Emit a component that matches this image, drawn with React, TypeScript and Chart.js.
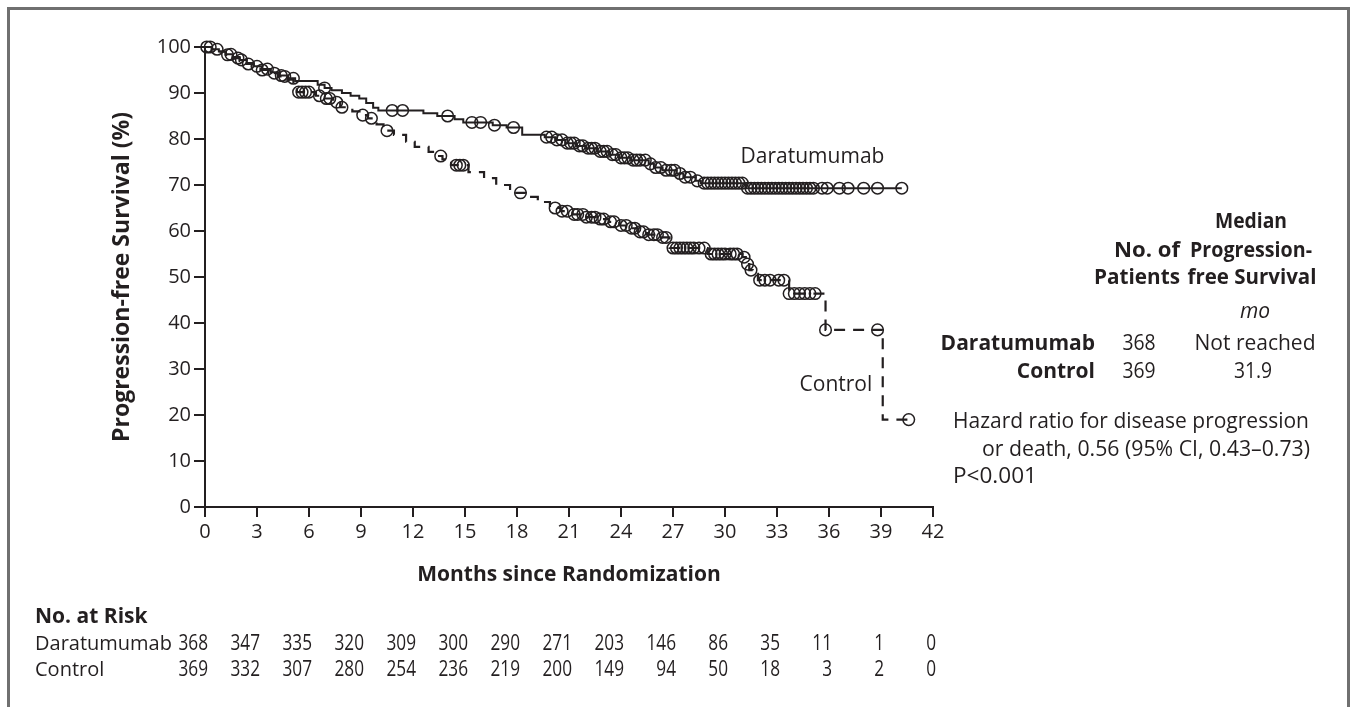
import { useEffect, useRef } from 'react';
import { Chart, registerables } from 'chart.js';

Chart.register(...registerables);

const FONT = "'Open Sans', sans-serif";
const INK = '#231f20';

// Kaplan–Meier step points (months, % progression-free)
const darTimes = [0, 0.4, 0.8, 1.2, 1.6, 2.0, 2.4, 2.8, 3.3, 3.8, 4.3, 4.8, 5.2, 6.5, 6.9, 7.3, 7.9, 8.4, 8.9, 9.3, 9.7, 10.0, 12.6, 13.4, 14.4, 14.9, 16.6, 17.4, 18.3, 19.6, 20.2, 20.8, 21.4, 22.0, 22.6, 23.3, 23.9, 24.6, 25.6, 25.9, 26.4, 27.2, 27.6, 28.3, 28.6, 31.2];
const darSurv = [100, 99.5, 99.0, 98.4, 97.8, 97.2, 96.5, 95.8, 95.2, 94.5, 93.8, 93.2, 92.6, 91.8, 91.1, 90.6, 90.0, 89.4, 88.8, 87.8, 86.8, 86.2, 85.6, 85.0, 84.3, 83.6, 83.0, 82.5, 80.9, 80.4, 79.8, 79.1, 78.5, 78.0, 77.3, 76.6, 75.9, 75.4, 74.6, 73.8, 73.2, 72.5, 71.7, 70.9, 70.4, 69.3];
const darEnd = 40.2;
const darCensor = [0.1, 0.7, 1.5, 2.1, 3.0, 3.6, 4.4, 5.1, 6.9, 10.8, 11.4, 14.0, 15.4, 15.9, 16.7, 17.8, 19.7, 20.0, 20.3, 20.6, 20.9, 21.1, 21.3, 21.6, 21.8, 22.1, 22.3, 22.5, 22.8, 23.0, 23.2, 23.5, 23.7, 24.0, 24.2, 24.4, 24.7, 24.9, 25.1, 25.4, 25.7, 26.0, 26.3, 26.6, 26.9, 27.1, 27.4, 27.7, 28.0, 28.4, 28.8, 29.0, 29.2, 29.4, 29.6, 29.8, 30.0, 30.2, 30.4, 30.6, 30.8, 31.0, 31.3, 31.5, 31.7, 31.9, 32.1, 32.3, 32.5, 32.7, 32.9, 33.1, 33.3, 33.5, 33.7, 33.9, 34.1, 34.3, 34.5, 34.7, 34.9, 35.1, 35.6, 35.9, 36.6, 37.1, 38.0, 38.8, 40.2];

const ctlTimes = [0, 0.4, 0.8, 1.2, 1.6, 2.0, 2.4, 2.8, 3.2, 3.7, 4.2, 4.7, 5.1, 5.3, 6.4, 6.9, 7.4, 7.8, 8.5, 9.0, 9.4, 9.9, 10.3, 10.9, 11.6, 12.1, 12.9, 13.3, 13.7, 14.2, 15.2, 16.1, 16.8, 17.6, 18.5, 19.2, 19.9, 20.5, 21.2, 21.9, 22.7, 23.3, 23.9, 24.5, 25.0, 25.5, 26.2, 26.8, 29.0, 31.0, 31.2, 31.4, 31.6, 31.9, 33.7, 35.8, 39.1];
const ctlSurv = [100, 99.5, 99.0, 98.3, 97.6, 97.0, 96.3, 95.6, 95.0, 94.3, 93.6, 92.9, 91.8, 90.2, 89.4, 88.8, 88.0, 86.9, 86.0, 85.2, 84.5, 83.2, 81.8, 80.9, 79.4, 78.3, 77.2, 76.3, 75.6, 74.3, 72.8, 71.5, 70.0, 68.3, 67.4, 66.3, 65.0, 64.3, 63.6, 63.0, 62.6, 62.0, 61.2, 60.6, 59.8, 59.2, 58.6, 56.3, 55.0, 54.3, 52.8, 51.5, 50.7, 49.3, 46.4, 38.5, 19.0];
const ctlEnd = 40.6;
const ctlCensor = [0.3, 1.3, 1.9, 2.5, 3.3, 4.0, 4.6, 5.4, 5.6, 5.8, 6.0, 6.6, 7.0, 7.2, 7.6, 7.9, 9.1, 9.6, 10.5, 13.6, 14.5, 14.7, 14.9, 18.2, 20.2, 20.6, 20.9, 21.3, 21.5, 21.8, 22.0, 22.3, 22.5, 22.8, 23.0, 23.4, 23.6, 24.0, 24.3, 24.6, 24.8, 25.1, 25.3, 25.6, 25.9, 26.1, 26.4, 26.6, 27.0, 27.2, 27.4, 27.6, 27.8, 28.0, 28.2, 28.5, 28.8, 29.2, 29.4, 29.6, 29.8, 30.0, 30.3, 30.5, 30.7, 31.1, 31.3, 31.5, 32.0, 32.3, 32.6, 33.1, 33.4, 33.7, 34.0, 34.3, 34.6, 34.9, 35.2, 35.8, 38.8, 40.6];

const riskTimes = [0, 3, 6, 9, 12, 15, 18, 21, 24, 27, 30, 33, 36, 39, 42];
const riskDara = [368, 347, 335, 320, 309, 300, 290, 271, 203, 146, 86, 35, 11, 1, 0];
const riskCtl = [369, 332, 307, 280, 254, 236, 219, 200, 149, 94, 50, 18, 3, 2, 0];

function survAt(times: number[], surv: number[], t: number) {
  let s = surv[0];
  for (let i = 0; i < times.length; i++) if (times[i] <= t) s = surv[i];
  return s;
}
const linePts = (times: number[], surv: number[], end: number) => [
  ...times.map((t, i) => ({ x: t, y: surv[i] })),
  { x: end, y: surv[surv.length - 1] },
];
const censorPts = (times: number[], surv: number[], cens: number[]) =>
  cens.map((t) => ({ x: t, y: survAt(times, surv, t) }));

// draw text, optionally squeezed horizontally by sx (or fitted to width w)
function txt(ctx: CanvasRenderingContext2D, s: string, x: number, y: number, align: CanvasTextAlign,
  opts: { weight?: string; style?: string; size?: number; sx?: number; w?: number } = {}) {
  const { weight = 'normal', style = 'normal', size = 21 } = opts;
  ctx.font = `${style} ${weight} ${size}px ${FONT}`;
  ctx.textAlign = align;
  let sx = opts.sx ?? 1;
  if (opts.w) sx = opts.w / ctx.measureText(s).width;
  ctx.save();
  ctx.translate(x, y);
  ctx.scale(sx, 1);
  ctx.fillText(s, 0, 0);
  ctx.restore();
}

const annotations = {
  id: 'annotations',
  afterDraw(chart: any) {
    const ctx: CanvasRenderingContext2D = chart.ctx;
    const xs = chart.scales.x;
    const ys = chart.scales.y;
    ctx.save();
    ctx.fillStyle = INK;
    ctx.textBaseline = 'middle';
    // curve labels
    txt(ctx, 'Daratumumab', xs.getPixelForValue(30.9), ys.getPixelForValue(76.1), 'left');
    txt(ctx, 'Control', xs.getPixelForValue(34.3), ys.getPixelForValue(26.5), 'left');
    // legend table
    const B = { weight: 'bold' };
    txt(ctx, 'Median', 1251, 222, 'center', { ...B, w: 72 });
    txt(ctx, 'No. of', 1180, 251, 'right', { ...B, w: 66 });
    txt(ctx, 'Progression-', 1251, 251, 'center', { ...B, w: 122 });
    txt(ctx, 'Patients', 1180, 278, 'right', { ...B, w: 86 });
    txt(ctx, 'free Survival', 1252, 278, 'center', { ...B, w: 129 });
    txt(ctx, 'mo', 1255, 312, 'center', { style: 'italic' });
    txt(ctx, 'Daratumumab', 1095, 344, 'right', B);
    txt(ctx, '368', 1139, 344, 'center', { sx: 0.92 });
    txt(ctx, 'Not reached', 1255, 344, 'center');
    txt(ctx, 'Control', 1095, 372, 'right', B);
    txt(ctx, '369', 1139, 372, 'center', { sx: 0.92 });
    txt(ctx, '31.9', 1253, 372, 'center', { sx: 0.92 });
    txt(ctx, 'Hazard ratio for disease progression', 953, 422, 'left');
    txt(ctx, 'or death, 0.56 (95% CI, 0.43\u20130.73)', 982, 450, 'left', { w: 328 });
    txt(ctx, 'P<0.001', 953, 477, 'left', { w: 84 });
    // number at risk
    txt(ctx, 'No. at Risk', 35, 617, 'left', B);
    txt(ctx, 'Daratumumab', 35, 644, 'left', { size: 20 });
    txt(ctx, 'Control', 35, 670, 'left', { size: 20 });
    riskTimes.forEach((t, i) => {
      const px = xs.getPixelForValue(t) + 3;
      txt(ctx, String(riskDara[i]), px, 644, 'right', { sx: 0.82 });
      txt(ctx, String(riskCtl[i]), px, 670, 'right', { sx: 0.82 });
    });
    ctx.restore();
  },
};

export default function App() {
  const ref = useRef<HTMLCanvasElement>(null);
  useEffect(() => {
    const tickFont = { family: FONT, size: 20 };
    const chart = new Chart(ref.current as HTMLCanvasElement, {
      type: 'scatter',
      data: {
        datasets: [
          {
            data: linePts(darTimes, darSurv, darEnd),
            showLine: true,
            stepped: 'before',
            borderColor: INK,
            borderWidth: 2,
            pointRadius: 0,
            clip: false,
          },
          {
            data: linePts(ctlTimes, ctlSurv, ctlEnd),
            showLine: true,
            stepped: 'before',
            borderColor: INK,
            borderWidth: 2.2,
            borderDash: [11, 8],
            pointRadius: 0,
            clip: false,
          },
          {
            data: censorPts(darTimes, darSurv, darCensor),
            pointRadius: 5.8,
            pointBorderWidth: 1.5,
            pointBorderColor: INK,
            pointBackgroundColor: 'rgba(0,0,0,0)',
            clip: false,
          },
          {
            data: censorPts(ctlTimes, ctlSurv, ctlCensor),
            pointRadius: 5.8,
            pointBorderWidth: 1.5,
            pointBorderColor: INK,
            pointBackgroundColor: 'rgba(0,0,0,0)',
            clip: false,
          },
        ] as any,
      },
      options: {
        animation: false,
        responsive: false,
        events: [],
        layout: { padding: { left: 0, top: 47, right: 420, bottom: 0 } },
        plugins: { legend: { display: false }, tooltip: { enabled: false } },
        scales: {
          x: {
            type: 'linear',
            min: 0,
            max: 42,
            afterFit: (s: any) => { s.height = 200; },
            ticks: { stepSize: 3, autoSkip: false, maxRotation: 0, color: INK, font: tickFont, padding: 3 },
            grid: { drawOnChartArea: false, drawTicks: true, tickLength: 10, color: INK, lineWidth: 2 },
            border: { display: true, color: INK, width: 2 },
            title: { display: true, text: 'Months since Randomization', color: INK, font: { family: FONT, size: 21, weight: 'bold', lineHeight: 1.2 }, padding: { top: 0, bottom: 119 } },
          },
          y: {
            type: 'linear',
            min: 0,
            max: 100,
            afterFit: (s: any) => { s.width = 205; },
            ticks: { stepSize: 10, color: INK, font: tickFont, padding: 3 },
            grid: { drawOnChartArea: false, drawTicks: true, tickLength: 11, color: INK, lineWidth: 2 },
            border: { display: true, color: INK, width: 2 },
            title: { display: true, text: 'Progression-free Survival (%)', color: INK, font: { family: FONT, size: 23, weight: 'bold', lineHeight: 1.2 }, padding: { top: 109, bottom: 0 } },
          },
        },
      } as any,
      plugins: [annotations],
    });
    return () => chart.destroy();
  }, []);
  return (
    <div style={{ position: 'absolute', left: 0, top: 0, width: 1353, height: 707, overflow: 'hidden', background: '#fff' }}>
      <div style={{ position: 'absolute', left: 7, top: 7, width: 1343, height: 760, border: '3px solid #707070', boxSizing: 'border-box' }} />
      <canvas ref={ref} width={1353} height={707} style={{ position: 'absolute', left: 0, top: 0, width: 1353, height: 707 }} />
    </div>
  );
}
